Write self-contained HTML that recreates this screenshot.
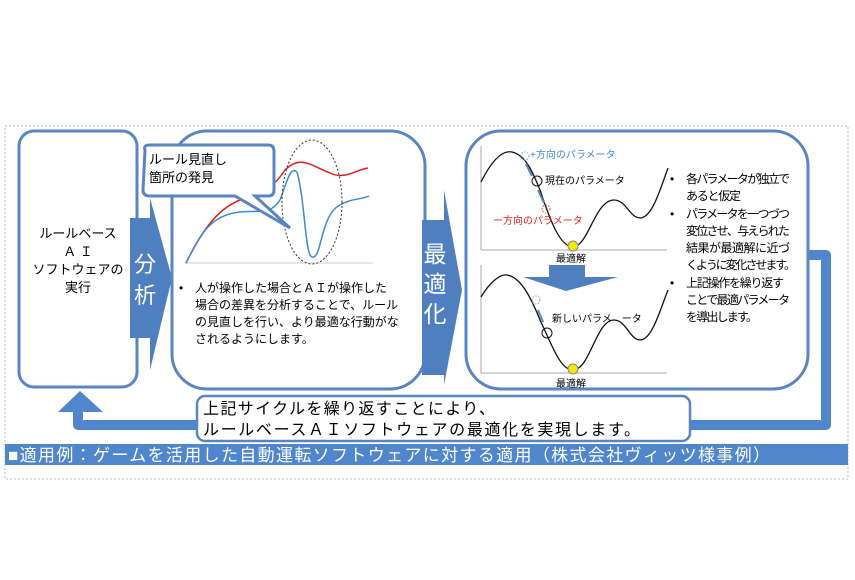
<!DOCTYPE html>
<html><head><meta charset="utf-8"><style>
body{margin:0;background:#fff;}
svg{display:block;}
text{font-family:"Liberation Sans","Noto Sans CJK JP",sans-serif;}
</style></head><body>
<svg width="855" height="580" viewBox="0 0 855 580" xmlns="http://www.w3.org/2000/svg">
<rect x="5" y="126" width="843" height="353" fill="none" stroke="#bbb" stroke-width="1" stroke-dasharray="2,2"/>
<path d="M808 255 H826 V425 H78 V410" fill="none" stroke="#4f86cc" stroke-width="10" stroke-linejoin="round"/>
<polygon points="80,391 58,412 103,412" fill="#4f86cc"/>
<rect x="19" y="131" width="118" height="256" rx="15" fill="#fff" stroke="#5a85c0" stroke-width="3"/>
<text x="78" y="238" font-size="13" text-anchor="middle">ルールベース</text>
<text x="78" y="256" font-size="13" text-anchor="middle">Ａ Ｉ</text>
<text x="78" y="274" font-size="13" text-anchor="middle">ソフトウェアの</text>
<text x="78" y="292" font-size="13" text-anchor="middle">実行</text>
<polygon points="130,218 150,218 150,198 172,278 150,370 150,338 130,338" fill="#4f7fbf"/>
<text x="145" y="272" font-size="22" fill="#fff" text-anchor="middle">分</text>
<text x="145" y="303" font-size="22" fill="#fff" text-anchor="middle">析</text>
<rect x="172" y="131" width="253" height="258" rx="35" fill="#fff" stroke="#5a85c0" stroke-width="3"/>
<line x1="185" y1="263" x2="373" y2="263" stroke="#ccc" stroke-width="1"/>
<path d="M186 263 C200 235 215 210 240 200 C262 192 272 190 285 170 C300 155 310 165 330 173 C345 180 355 170 368 168" fill="none" stroke="#e02020" stroke-width="1.5"/>
<path d="M186 263 C200 235 210 215 240 212 C262 210 270 215 280 200 C286 185 290 165 297 172 C305 200 305 255 312 257 C322 260 320 215 340 205 C352 198 360 200 369 196" fill="none" stroke="#3a8ad0" stroke-width="1.5"/>
<ellipse cx="312" cy="202" rx="30" ry="62" fill="none" stroke="#333" stroke-width="1" stroke-dasharray="2,2"/>
<path d="M145 150 Q143 145 150 145 H268 Q274 145 274 151 V190 Q274 196 268 196 H255 L290 228 L235 196 H150 Q143 196 143 190 Z" fill="#fff" stroke="#5a85c0" stroke-width="3"/>
<text x="149" y="164" font-size="13">ルール見直し</text>
<text x="149" y="182" font-size="13">箇所の発見</text>
<text x="179" y="292" font-size="12">•</text>
<text x="195" y="292" font-size="12">人が操作した場合とＡＩが操作した</text>
<text x="195" y="309" font-size="12">場合の差異を分析することで、ルール</text>
<text x="195" y="326" font-size="12">の見直しを行い、より最適な行動がな</text>
<text x="195" y="343" font-size="12">されるようにします。</text>
<polygon points="422,220 444,220 444,190 462,290 444,385 444,375 422,375" fill="#4f7fbf"/>
<text x="435" y="262" font-size="23" fill="#fff" text-anchor="middle">最</text>
<text x="435" y="292" font-size="23" fill="#fff" text-anchor="middle">適</text>
<text x="435" y="322" font-size="23" fill="#fff" text-anchor="middle">化</text>
<rect x="466" y="131" width="342" height="258" rx="35" fill="#fff" stroke="#5a85c0" stroke-width="3"/>
<line x1="481" y1="146" x2="481" y2="250" stroke="#aaa"/>
<line x1="481" y1="250" x2="667" y2="250" stroke="#aaa"/>
<path d="M481 182 C492 160 502 150 512 152 C525 155 532 170 540 190 C550 220 560 247 573 247 C588 247 595 200 614 200 C626 200 630 218 640 218 C652 218 660 190 668 168" fill="none" stroke="#111" stroke-width="1.3"/>
<circle cx="525" cy="156" r="4" fill="none" stroke="#6aa8e0" stroke-dasharray="1.5,1.5"/>
<circle cx="537" cy="181" r="5" fill="none" stroke="#111"/>
<circle cx="546" cy="209" r="4" fill="none" stroke="#e04040" stroke-dasharray="1.5,1.5"/>
<line x1="526" y1="164" x2="532" y2="176" stroke="#4f86cc" stroke-width="2"/>
<line x1="538" y1="190" x2="544" y2="203" stroke="#4f86cc" stroke-width="2"/>
<circle cx="573" cy="246" r="5" fill="#f5e800" stroke="#888"/>
<text x="530" y="158" font-size="10" fill="#3a8ad0">+方向のパラメータ</text>
<text x="545" y="184" font-size="10">現在のパラメータ</text>
<text x="493" y="224" font-size="10" fill="#e02020">ー方向のパラメータ</text>
<text x="556" y="262" font-size="10">最適解</text>
<line x1="481" y1="265" x2="481" y2="373" stroke="#aaa"/>
<line x1="481" y1="373" x2="667" y2="373" stroke="#aaa"/>
<path d="M481 297 C490 282 500 274 507 275 C520 277 530 295 540 320 C552 345 560 370 573 370 C590 370 596 320 614 320 C626 320 630 340 640 340 C652 340 660 310 668 290" fill="none" stroke="#111" stroke-width="1.3"/>
<circle cx="536" cy="300" r="4" fill="none" stroke="#999" stroke-dasharray="1.5,1.5"/>
<line x1="538" y1="310" x2="543" y2="322" stroke="#4f86cc" stroke-width="2"/>
<circle cx="547" cy="333" r="5" fill="none" stroke="#111"/>
<circle cx="573" cy="369" r="5" fill="#f5e800" stroke="#888"/>
<text x="552" y="322" font-size="10">新しいパラメ　ータ</text>
<text x="556" y="387" font-size="10">最適解</text>
<polygon points="549,265 585,265 585,277 618,277 566,291 523,277 549,277" fill="#4f7fbf"/>
<text x="670" y="183" font-size="12">•</text>
<text x="686" y="183" font-size="12" textLength="104">各パラメータが独立で</text>
<text x="686" y="200" font-size="12" textLength="55">あると仮定</text>
<text x="670" y="218" font-size="12">•</text>
<text x="686" y="218" font-size="12" textLength="104">パラメータを一つづつ</text>
<text x="686" y="235" font-size="12" textLength="104">変位させ、与えられた</text>
<text x="686" y="252" font-size="12" textLength="104">結果が最適解に近づ</text>
<text x="686" y="269" font-size="12" textLength="110">くように変化させます。</text>
<text x="670" y="287" font-size="12">•</text>
<text x="686" y="287" font-size="12" textLength="98">上記操作を繰り返す</text>
<text x="686" y="304" font-size="12" textLength="104">ことで最適パラメータ</text>
<text x="686" y="321" font-size="12" textLength="72">を導出します。</text>
<rect x="197" y="396" width="493" height="45" rx="8" fill="#fff" stroke="#5a85c0" stroke-width="2.5"/>
<text x="203" y="414" font-size="16" textLength="292">上記サイクルを繰り返すことにより、</text>
<text x="203" y="435" font-size="16" textLength="437">ルールベースＡＩソフトウェアの最適化を実現します。</text>
<rect x="5" y="444" width="843" height="21" fill="#4f86cc"/>
<text x="8" y="461" font-size="17" fill="#fff" textLength="762">■適用例：ゲームを活用した自動運転ソフトウェアに対する適用（株式会社ヴィッツ様事例）</text>
</svg>
</body></html>
